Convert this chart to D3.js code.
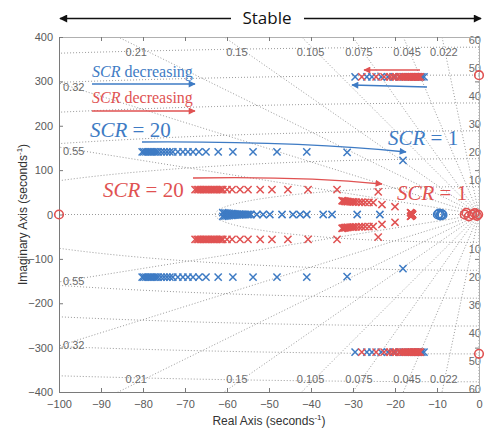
<!DOCTYPE html>
<html>
<head>
<meta charset="utf-8">
<script src="https://cdn.jsdelivr.net/npm/d3@7"></script>
<style>
  body { margin: 0; background: #fff; }
  svg { font-family: "Liberation Sans", Arial, sans-serif; }
</style>
</head>
<body>
<svg id="chart" width="487" height="431"></svg>
<script>
// ---------------- data ----------------
const xTicks = [-100, -90, -80, -70, -60, -50, -40, -30, -20, -10, 0];
const yTicks = [-400, -300, -200, -100, 0, 100, 200, 300, 400];
const dampingRatios = [0.022, 0.045, 0.075, 0.105, 0.15, 0.21, 0.32, 0.55];
const dampingTopLabels = ["0.022", "0.045", "0.075", "0.105", "0.15", "0.21"];
const dampingSideLabels = ["0.32", "0.55"];
const gridFreqHz = [10, 20, 30, 40, 50, 60];

// System 1 (blue) poles, SCR = 20 ... 1
const blueA_re = [-80.2, -79.8, -79.3, -78.8, -78.3, -77.9, -77.4, -76.9, -76.4, -75.7, -75.0, -74.3, -73.6,
                  -72.9, -71.7, -70.5, -69.3, -68.1, -66.7, -65.0, -62.1, -58.6, -53.8, -48.1, -41.0, -31.4, -18.1];
const blueA_im = [141, 141, 141, 141, 141, 141, 141, 141, 141, 141, 141, 141, 141,
                  141, 141, 141, 141, 141, 141, 141, 141, 141, 141, 141, 141, 140, 122];
const blueReal_re = [-61.0, -60.5, -60.0, -59.5, -59.0, -58.6, -58.1, -57.6, -57.1, -56.7, -56.2, -55.7, -55.2, -54.8, -54.3,
                     -52.9, -51.4, -49.8, -46.9, -44.3, -42.6, -41.0, -37.1, -35.0, -29.0, -23.6];
const blueReal_im = [4, 3.5, 3, 2.6, 2.2, 1.8, 1.4, 1, 0.7, 0.4, 0.2, 0, 0, 0, 0,
                     0, 0, 0, 0, 0, 0, 0, 0, 0, 0, 0];
const blueHF_re = [-29.5, -26.7, -25.5, -23.3, -21.7, -20.2, -19.0, -17.9, -16.9, -16.0, -15.2, -14.5, -14.0, -13.6, -13.1];
const blueHF_im = [310, 310, 310, 310, 310, 310, 310, 310, 310, 310, 310, 310, 310, 310, 310];
const blueZero_re = [-9.8, -9.5, -9.2, -8.9, -8.7];
const blueZero_im = [0, 2, -2, 1, -1];

// System 2 (red) poles, SCR = 20 ... 1
const redA_re = [-67.6, -67.1, -66.7, -66.2, -65.7, -65.2, -64.8, -64.3, -63.8, -63.3, -62.9, -62.4, -61.9, -61.4, -61.0,
                 -60.0, -58.8, -56.9, -55.0, -52.1, -49.3, -45.5, -40.7, -33.8, -24.0];
const redA_im = [56, 56, 56, 56, 56, 56, 56, 56, 56, 56, 56, 56, 56, 56, 56,
                 56, 56, 56, 56, 56, 56, 56, 56, 56, 51];
const redB_re = [-32.6, -32.4, -32.1, -31.9, -31.7, -31.4, -31.2, -30.7, -30.2, -29.8, -29.3, -28.6, -27.9, -27.1, -26.2, -25.2,
                 -23.1, -20.0];
const redB_im = [31, 30.6, 30.2, 29.8, 29.5, 29.2, 29, 28.7, 28.4, 28.2, 28, 27.8, 27.6, 27.4, 27.2, 27,
                 22.5, 17.5];
const redReal_re = [-16.3, -16.1, -16.0, -15.9, -15.8];
const redReal_im = [4, 3, 2, 1, 0];
const redHF_re = [-27.9, -24.5, -22.6, -21.2, -20.5, -19.8, -19.0, -18.6, -18.1, -17.6, -17.1, -16.7, -16.2, -16.0,
                  -15.7, -15.5, -15.2, -15.0, -14.8, -14.5, -14.3, -14.0];
const redHF_im = [310, 310, 310, 310, 310, 310, 310, 310, 310, 310, 310, 310, 310, 310,
                  310, 310, 310, 310, 310, 310, 310, 310];
const redZero_re = [-100, 0, 0, -3.4, -3.0, -2.4, -1.6, -1.0, -0.5, -0.2];
const redZero_im = [0, 314, -314, 0, 4, -4, 0, 3, -3, 0];

// ---------------- layout ----------------
const BLUE = "#3e7bc4";
const RED = "#e05252";
const GRID = "#9a9a9a";
const AXIS = "#7a7a7a";
const TICKTEXT = "#5a5a5a";
const SANS = "'Liberation Sans', Arial, sans-serif";
const SERIF = "'Liberation Serif', 'DejaVu Serif', serif";

const svg = d3.select("#chart");
const xs = d3.scaleLinear().domain([-100, 0]).range([59, 479]);
const ys = d3.scaleLinear().domain([-400, 400]).range([392, 37]);
const [x0, x1] = xs.range();
const [y0, y1] = [ys.range()[1], ys.range()[0]];

const defs = svg.append("defs");
defs.append("clipPath").attr("id", "plotClip")
  .append("rect").attr("x", x0).attr("y", y0).attr("width", x1 - x0).attr("height", y1 - y0);

function arrowMarker(id, color, w, h) {
  defs.append("marker").attr("id", id)
    .attr("viewBox", "0 0 10 10").attr("refX", 9).attr("refY", 5)
    .attr("markerWidth", w).attr("markerHeight", h)
    .attr("markerUnits", "userSpaceOnUse")
    .attr("orient", "auto-start-reverse")
    .append("path").attr("d", "M0,0L10,5L0,10Z").attr("fill", color);
}
arrowMarker("arrowBlue", BLUE, 8, 7);
arrowMarker("arrowRed", RED, 8, 7);
arrowMarker("arrowBlack", "#111", 9, 8);

// ---------------- grid (damping lines and natural-frequency circles) ----------------
const grid = svg.append("g").attr("clip-path", "url(#plotClip)")
  .attr("fill", "none").attr("stroke", GRID).attr("stroke-width", 1).attr("stroke-dasharray", "1,2");

const line = d3.line().x(d => xs(d[0])).y(d => ys(d[1]));

// real axis (zeta = 1) and imaginary axis (zeta = 0)
grid.append("path").attr("d", line([[-100, 0], [0, 0]]));
grid.append("path").attr("d", line([[0, -400], [0, 400]]));

dampingRatios.forEach(z => {
  const far = 2000;
  const re = -far * z, im = far * Math.sqrt(1 - z * z);
  grid.append("path").attr("d", line([[0, 0], [re, im]]));
  grid.append("path").attr("d", line([[0, 0], [re, -im]]));
});

gridFreqHz.forEach(f => {
  const w = 2 * Math.PI * f;
  const pts = d3.range(0, 361).map(i => {
    const th = Math.PI / 2 + Math.PI * i / 360;
    return [w * Math.cos(th), w * Math.sin(th)];
  });
  grid.append("path").attr("d", line(pts));
});

// grid labels
const gridText = svg.append("g").attr("fill", "#6a6a6a").attr("font-size", 11).style("font-family", SANS);

dampingTopLabels.forEach(lbl => {
  const z = +lbl;
  const xAt = im => xs(-im * z / Math.sqrt(1 - z * z));
  gridText.append("text").attr("x", xAt(380)).attr("y", ys(366))
    .attr("text-anchor", "middle").attr("dominant-baseline", "central").text(lbl);
  gridText.append("text").attr("x", xAt(380)).attr("y", ys(-370))
    .attr("text-anchor", "middle").attr("dominant-baseline", "central").text(lbl);
});
dampingSideLabels.forEach(lbl => {
  const z = +lbl;
  const im = 100 * Math.sqrt(1 - z * z) / z;
  gridText.append("text").attr("x", x0 + 4).attr("y", ys(im) + 4)
    .attr("dominant-baseline", "central").text(lbl);
  gridText.append("text").attr("x", x0 + 4).attr("y", ys(-im) - 1)
    .attr("dominant-baseline", "central").text(lbl);
});
gridFreqHz.forEach(f => {
  const w = 2 * Math.PI * f;
  gridText.append("text").attr("x", x1 + 2).attr("y", ys(w) - 7)
    .attr("text-anchor", "end").attr("dominant-baseline", "central").text(f);
  gridText.append("text").attr("x", x1 + 2).attr("y", ys(-w) + 7)
    .attr("text-anchor", "end").attr("dominant-baseline", "central").text(f);
});

// ---------------- axes ----------------
const axisG = svg.append("g");
const xAxis = axisG.append("g").attr("transform", `translate(0,${y1})`)
  .call(d3.axisBottom(xs).tickValues(xTicks).tickSizeInner(-4).tickSizeOuter(0).tickPadding(8));
const xAxisTop = axisG.append("g").attr("transform", `translate(0,${y0})`)
  .call(d3.axisTop(xs).tickValues(xTicks).tickSizeInner(-4).tickSizeOuter(0).tickFormat(""));
const yAxis = axisG.append("g").attr("transform", `translate(${x0},0)`)
  .call(d3.axisLeft(ys).tickValues(yTicks).tickSizeInner(-4).tickSizeOuter(0).tickPadding(6));
const yAxisRight = axisG.append("g").attr("transform", `translate(${x1},0)`)
  .call(d3.axisRight(ys).tickValues(yTicks).tickSizeInner(-4).tickSizeOuter(0).tickFormat(""));
[xAxis, xAxisTop, yAxis, yAxisRight].forEach(a => {
  a.select(".domain").attr("stroke", AXIS);
  a.selectAll(".tick line").attr("stroke", AXIS);
  a.selectAll(".tick text").attr("fill", TICKTEXT).attr("font-size", 11).style("font-family", SANS);
});
xAxisTop.select(".domain").attr("stroke", "#b0b0b0");
yAxisRight.select(".domain").attr("stroke", "#b0b0b0");

// axis titles
const xt = svg.append("text").attr("x", (x0 + x1) / 2).attr("y", 425)
  .attr("text-anchor", "middle").attr("font-size", 12).attr("fill", "#333").style("font-family", SANS);
xt.append("tspan").text("Real Axis (seconds");
xt.append("tspan").attr("dy", -5).attr("font-size", 8).text("-1");
xt.append("tspan").attr("dy", 5).text(")");

const yt = svg.append("text").attr("transform", `translate(27,${(y0 + y1) / 2}) rotate(-90)`)
  .attr("text-anchor", "middle").attr("font-size", 12).attr("fill", "#333").style("font-family", SANS);
yt.append("tspan").text("Imaginary Axis (seconds");
yt.append("tspan").attr("dy", -5).attr("font-size", 8).text("-1");
yt.append("tspan").attr("dy", 5).text(")");

// ---------------- poles and zeros ----------------
function pairs(re, im, mirror) {
  const pts = [];
  re.forEach((r, i) => {
    pts.push([r, im[i]]);
    if (mirror && im[i] !== 0) pts.push([r, -im[i]]);
  });
  return pts;
}
const crossPath = "M-3.6,-3.6L3.6,3.6M-3.6,3.6L3.6,-3.6";
function drawPoles(pts, color) {
  svg.append("g").selectAll("path").data(pts).join("path")
    .attr("transform", d => `translate(${xs(d[0])},${ys(d[1])})`)
    .attr("d", crossPath).attr("fill", "none")
    .attr("stroke", color).attr("stroke-width", 1.5);
}
function drawZeros(pts, color) {
  svg.append("g").selectAll("circle").data(pts).join("circle")
    .attr("cx", d => xs(d[0])).attr("cy", d => ys(d[1])).attr("r", 4.3)
    .attr("fill", "none").attr("stroke", color).attr("stroke-width", 1.6);
}

drawPoles(pairs(blueA_re, blueA_im, true), BLUE);
drawPoles(pairs(blueReal_re, blueReal_im, true), BLUE);
drawPoles(pairs(blueHF_re, blueHF_im, true), BLUE);
drawZeros(pairs(blueZero_re, blueZero_im, false), BLUE);

drawPoles(pairs(redA_re, redA_im, true), RED);
drawPoles(pairs(redB_re, redB_im, true), RED);
drawPoles(pairs(redReal_re, redReal_im, true), RED);
drawPoles(pairs(redHF_re, redHF_im, true), RED);
drawZeros(pairs(redZero_re, redZero_im, false), RED);

// ---------------- annotations ----------------
// "Stable" banner with arrows over the plot
svg.append("line").attr("x1", 231).attr("y1", 18.5).attr("x2", 60).attr("y2", 18.5)
  .attr("stroke", "#111").attr("stroke-width", 1.4).attr("marker-end", "url(#arrowBlack)");
svg.append("line").attr("x1", 304).attr("y1", 18.5).attr("x2", 481).attr("y2", 18.5)
  .attr("stroke", "#111").attr("stroke-width", 1.4).attr("marker-end", "url(#arrowBlack)");
svg.append("text").attr("x", 267).attr("y", 24).attr("text-anchor", "middle")
  .style("font-family", "'Open Sans', sans-serif").attr("font-size", 17).attr("fill", "#111").text("Stable");

function scrLabel(x, y, size, color, rest) {
  const t = svg.append("text").attr("x", x).attr("y", y).style("font-family", SERIF)
    .attr("font-size", size).attr("fill", color);
  t.append("tspan").style("font-style", "italic").text("SCR");
  t.append("tspan").text(rest);
}
function arrowLine(pts, color, marker) {
  svg.append("path")
    .attr("d", `M${pts[0][0]},${pts[0][1]}Q${pts[1][0]},${pts[1][1]} ${pts[2][0]},${pts[2][1]}`)
    .attr("fill", "none").attr("stroke", color).attr("stroke-width", 1.3)
    .attr("marker-end", `url(#${marker})`);
}

// direction hints
scrLabel(92, 77, 16, BLUE, " decreasing");
arrowLine([[92, 84], [140, 84], [195, 84]], BLUE, "arrowBlue");
scrLabel(92, 103, 16, RED, " decreasing");
arrowLine([[92, 111], [140, 111], [195, 111]], RED, "arrowRed");

// SCR sweep labels and trajectories
scrLabel(90, 137, 21, BLUE, " = 20");
arrowLine([[142, 142], [300, 141], [406, 152]], BLUE, "arrowBlue");
scrLabel(388, 145, 21, BLUE, " = 1");

scrLabel(103, 197, 21, RED, " = 20");
arrowLine([[193, 178], [300, 176], [382, 184]], RED, "arrowRed");
scrLabel(397, 200, 21, RED, " = 1");

// high-frequency pair trajectories (moving left as SCR decreases)
arrowLine([[420, 70], [392, 70], [364, 70]], RED, "arrowRed");
arrowLine([[427, 87], [390, 86], [352, 85]], BLUE, "arrowBlue");
</script>
</body>
</html>
